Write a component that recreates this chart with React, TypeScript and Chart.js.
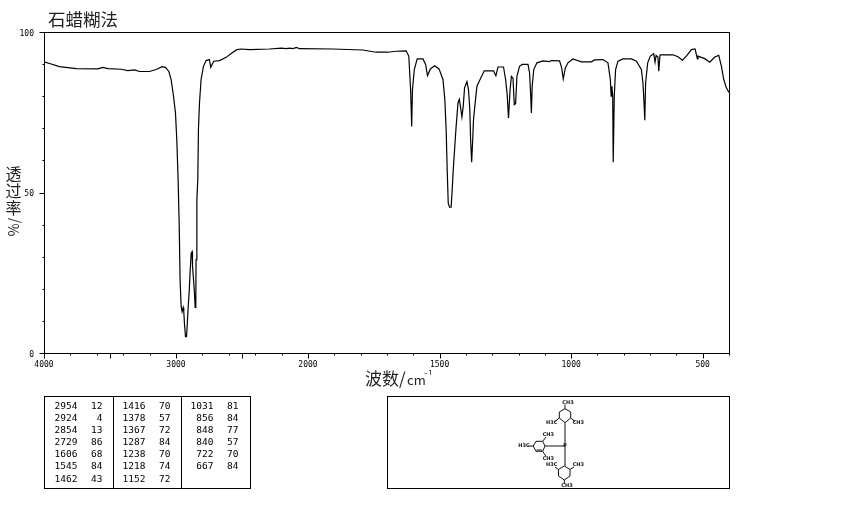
import React, { useEffect, useRef } from "react";
import { Chart, registerables, LinearScale } from "chart.js";

const titleText = "石蜡糊法";
const xTitleMain = "波数/";
const xTitleUnit = "cm";
const xTitleExponent = "⁻¹";
const yTitleChars = ["透", "过", "率"];
const yTitleUnit = "%/";

const wavenumbers = [4000,3958,3883,3756,3592,3554,3516,3415,3365,3314,3277,3201,3150,3105,3080,3054,3037,3019,3004,2994,2984,2976,2969,2961,2954,2946,2941,2936,2928,2920,2915,2908,2900,2893,2885,2878,2875,2868,2860,2855,2850,2848,2842,2835,2830,2822,2810,2792,2772,2747,2737,2714,2671,2620,2582,2539,2506,2443,2292,2203,2165,2140,2115,2085,2065,1906,1792,1741,1697,1665,1627,1617,1610,1606,1603,1596,1585,1563,1553,1546,1535,1519,1502,1487,1480,1475,1471,1467,1462,1456,1452,1448,1443,1437,1430,1425,1421,1415,1410,1405,1396,1390,1385,1382,1378,1374,1371,1366,1358,1348,1330,1295,1286,1278,1257,1249,1243,1238,1232,1227,1221,1216,1211,1206,1196,1186,1164,1158,1154,1151,1148,1142,1130,1107,1082,1075,1044,1036,1030,1022,1012,993,961,923,911,879,860,851,848,845,842,840,836,831,822,803,771,752,733,727,723,720,717,709,699,686,681,677,670,667,662,613,594,577,562,543,529,520,518,492,473,454,439,429,420,410,400];
const transmittance = [90.7,90.2,89.2,88.6,88.5,89.0,88.6,88.4,88.0,88.2,87.7,87.7,88.3,89.2,89.0,87.7,85.2,80,74.8,66.5,54,40.5,22.8,14.5,12.9,14.2,12.9,9.2,5.1,5.1,8.7,14.2,19.1,25.4,31.1,31.6,27,23.3,18.7,14.2,15,29.1,47.7,54,69.6,77.9,85.2,89.3,91.1,91.4,89,90.9,91.1,92.1,93.3,94.5,94.7,94.5,94.7,95,94.8,95,94.8,95.2,94.8,94.7,94.4,93.7,93.7,94,94.1,92.5,82,70.6,82,88.3,91.6,91.6,89.9,86.4,88.5,89.5,88.5,85.2,79,69.6,57,46.7,45.4,45.4,50.9,57.1,63.3,70.6,77.9,79,77,73.5,76.9,82.6,84.5,82,75.8,66.5,59.4,66.5,72.7,76.9,83.1,84.9,87.9,87.9,86.4,89.1,89.1,85.2,80.5,73.2,82,86.2,85.7,77.4,77.7,86.2,89.3,89.9,89.9,87.3,81,74.8,83.1,88.3,90.4,91,90.8,91.1,91,88.8,85.4,88.8,90.4,91.6,90.7,90.7,91.3,91.4,90.4,85.2,80,83.1,80,59.4,80,88.3,90.9,91.6,91.6,90.9,88.3,84.1,77.9,72.5,84.1,90.4,92.5,93.2,90.6,92.7,92.2,87.8,92.9,92.9,92.3,91.2,92.5,94.5,94.7,91.6,92.5,91.7,90.6,92.2,92.7,89.4,85.2,82.6,81.2];

const xTicks = [4000,3800,3600,3500,3400,3200,3000,2800,2600,2500,2400,2200,2000,1900,1800,1700,1600,1500,1400,1300,1200,1100,1000,900,800,700,600,500,400];
const xLabelled = [4000,3000,2000,1500,1000,500];
const xLong = [4000,3500,3000,2500,2000,1500,1000,500];
const yLabelled = [100,50,0];

const tableWavenumbers = [
  ["2954","2924","2854","2729","1606","1545","1462"],
  ["1416","1378","1367","1287","1238","1218","1152"],
  ["1031","856","848","840","722","667"],
];
const tableValues = [
  ["12","4","13","86","68","84","43"],
  ["70","57","72","84","70","74","72"],
  ["81","84","77","57","70","84"],
];

const AREA = { left: 44, top: 32, right: 729, bottom: 353 };
const BREAK_FRACTION = 264 / 685;
const MONO = '"DejaVu Sans Mono", monospace';
const CJK = '"Noto Sans CJK SC", sans-serif';

class IrScale extends LinearScale {
  static id = "ir";
  static defaults = LinearScale.defaults;
  getPixelForValue(v: number) {
    const f = v >= 2000
      ? ((4000 - v) / 2000) * BREAK_FRACTION
      : BREAK_FRACTION + ((2000 - v) / 1600) * (1 - BREAK_FRACTION);
    return this.getPixelForDecimal(f);
  }
  getValueForPixel(p: number) {
    const f = this.getDecimalForPixel(p);
    return f <= BREAK_FRACTION
      ? 4000 - (f / BREAK_FRACTION) * 2000
      : 2000 - ((f - BREAK_FRACTION) / (1 - BREAK_FRACTION)) * 1600;
  }
}

Chart.register(...registerables, IrScale);

const framePlugin = {
  id: "irFrame",
  afterDraw(chart: any) {
    const { ctx, scales } = chart;
    const { left, top, right, bottom } = chart.chartArea;
    ctx.save();
    ctx.strokeStyle = "#000";
    ctx.lineWidth = 1;
    ctx.strokeRect(left + 0.5, top + 0.5, right - left, bottom - top);
    ctx.beginPath();
    for (const t of scales.x.ticks) {
      const px = Math.round(scales.x.getPixelForValue(t.value)) + 0.5;
      const len = xLong.includes(t.value) ? 5 : 2;
      ctx.moveTo(px, bottom + 0.5);
      ctx.lineTo(px, bottom + 0.5 + len);
    }
    for (const t of scales.y.ticks) {
      const py = Math.round(scales.y.getPixelForValue(t.value)) + 0.5;
      const len = yLabelled.includes(t.value) ? 5 : 2;
      ctx.moveTo(left + 0.5, py);
      ctx.lineTo(left + 0.5 - len, py);
    }
    ctx.stroke();

    ctx.fillStyle = "#222";
    ctx.textBaseline = "middle";
    ctx.textAlign = "left";
    ctx.font = `17.5px ${CJK}`;
    ctx.fillText(titleText, 48, 19.5);
    ctx.font = `17px ${CJK}`;
    ctx.fillText(xTitleMain, 365, 379);
    ctx.font = `13px ${CJK}`;
    ctx.fillText(xTitleUnit, 407, 380);
    ctx.font = `11px ${CJK}`;
    ctx.fillText(xTitleExponent, 424, 376);
    ctx.textAlign = "center";
    ctx.font = `16px ${CJK}`;
    const ys = [174, 191, 208];
    yTitleChars.forEach((c, i) => ctx.fillText(c, 13.5, ys[i]));
    ctx.translate(13.5, 227);
    ctx.rotate(-Math.PI / 2);
    ctx.font = `14px ${CJK}`;
    ctx.fillText(yTitleUnit, 0, 0);
    ctx.restore();
  },
};

const molLines = [
  [565,408.7,570.7,412],[570.7,412,570.7,418],[570.7,418,565,422.7],[565,422.7,559.3,418],[559.3,418,559.3,412],[559.3,412,565,408.7],
  [565,422.7,565,466],[565,446,545,446],[565,404.5,565,408.7],[559.3,418,555,421.5],[570.7,418,575,421.5],
  [533.3,446,536,441.3],[536,441.3,542.7,441.3],[542.7,441.3,545,446],[545,446,542.7,451.3],[542.7,451.3,536,451.3],[536,451.3,533.3,446],
  [536.5,450,542,450],[542.7,441.3,546,437],[542.7,451.3,546,456.5],[533.3,446,528,446],
  [564.3,466,570,469.5],[570,469.5,570,476],[570,476,564.3,480],[564.3,480,558.5,476],[558.5,476,558.5,469.5],[558.5,469.5,564.3,466],
  [558.5,469.5,555,467],[570,469.5,574,467],[564.3,480,564.3,484],
];
const molLabels: [string, number, number][] = [
  ["CH3",568,402.7],["H3C",551.7,422.7],["CH3",578.3,422.7],["H3C",524,446],["CH3",548.3,434.7],["CH3",548.3,458.7],
  ["H3C",551.7,464.7],["CH3",578.3,464.7],["CH3",567,486],["P",565,446],
];

const rowY = [406, 418, 430, 442, 454, 466, 479];
const colRight = [[77.5, 102.5], [145.5, 170.5], [213.5, 238.5]];

function PeakTable() {
  const cell = (text: string, right: number, y: number, key: string) => (
    <span key={key} style={{ position: "absolute", left: right - 40, width: 40, top: y - 7, height: 14, textAlign: "right", font: `9.5px/14px ${MONO}`, color: "#000" }}>{text}</span>
  );
  return (
    <>
      <div style={{ position: "absolute", left: 44, top: 396, width: 205, height: 91, border: "1px solid #000", boxSizing: "content-box" }} />
      <div style={{ position: "absolute", left: 113, top: 396, width: 1, height: 92, background: "#000" }} />
      <div style={{ position: "absolute", left: 181, top: 396, width: 1, height: 92, background: "#000" }} />
      {tableWavenumbers.map((col, c) => col.map((w, r) => cell(w, colRight[c][0], rowY[r], `w${c}${r}`)))}
      {tableValues.map((col, c) => col.map((v, r) => cell(v, colRight[c][1], rowY[r], `v${c}${r}`)))}
    </>
  );
}

function Molecule() {
  return (
    <svg width={850} height={510} style={{ position: "absolute", left: 0, top: 0, pointerEvents: "none" }}>
      <rect x={387.5} y={396.5} width={342} height={92} fill="none" stroke="#000" />
      {molLines.map((l, i) => <line key={i} x1={l[0]} y1={l[1]} x2={l[2]} y2={l[3]} stroke="#111" strokeWidth={1} />)}
      {molLabels.map(([t, x, y], i) => (
        <text key={i} x={x} y={y} fontSize={5} fontWeight="bold" fontFamily="DejaVu Sans" textAnchor="middle" dominantBaseline="middle" fill="#111">{t}</text>
      ))}
    </svg>
  );
}

export default function App() {
  const ref = useRef<HTMLCanvasElement>(null);
  useEffect(() => {
    const chart = new Chart(ref.current!, {
      type: "line",
      data: {
        datasets: [{
          label: "透过率",
          data: wavenumbers.map((w, i) => ({ x: w, y: transmittance[i] })),
          borderColor: "#000",
          borderWidth: 1.2,
          pointRadius: 0,
          tension: 0,
          fill: false,
        }],
      },
      plugins: [framePlugin],
      options: {
        responsive: false,
        animation: false,
        devicePixelRatio: 1,
        layout: { padding: { left: 0, top: AREA.top, right: 850 - AREA.right, bottom: 0 } },
        plugins: { legend: { display: false }, title: { display: false }, tooltip: { enabled: false } },
        scales: {
          x: {
            type: "ir" as any,
            min: 400,
            max: 4000,
            grid: { display: false, drawTicks: false },
            border: { display: false },
            afterBuildTicks: (s: any) => { s.ticks = xTicks.map((v) => ({ value: v })); },
            afterFit: (s: any) => { s.height = 510 - AREA.bottom; },
            ticks: {
              autoSkip: false, maxRotation: 0, padding: 7, color: "#000",
              font: { family: "DejaVu Sans Mono", size: 8 },
              callback: (v: any) => (xLabelled.includes(Number(v)) ? String(v) : ""),
            },
          },
          y: {
            min: 0,
            max: 100,
            grid: { display: false, drawTicks: false },
            border: { display: false },
            afterFit: (s: any) => { s.width = AREA.left; },
            ticks: {
              stepSize: 10, autoSkip: false, padding: 10, color: "#000", labelOffset: 1.5,
              font: { family: "DejaVu Sans Mono", size: 8 },
              callback: (v: any) => (yLabelled.includes(Number(v)) ? String(v) : ""),
            },
          },
        },
      },
    } as any);
    return () => chart.destroy();
  }, []);
  return (
    <div style={{ position: "absolute", left: 0, top: 0, width: 850, height: 510, background: "#fff" }}>
      <canvas ref={ref} width={850} height={510} style={{ position: "absolute", left: 0, top: 0 }} />
      <PeakTable />
      <Molecule />
    </div>
  );
}
